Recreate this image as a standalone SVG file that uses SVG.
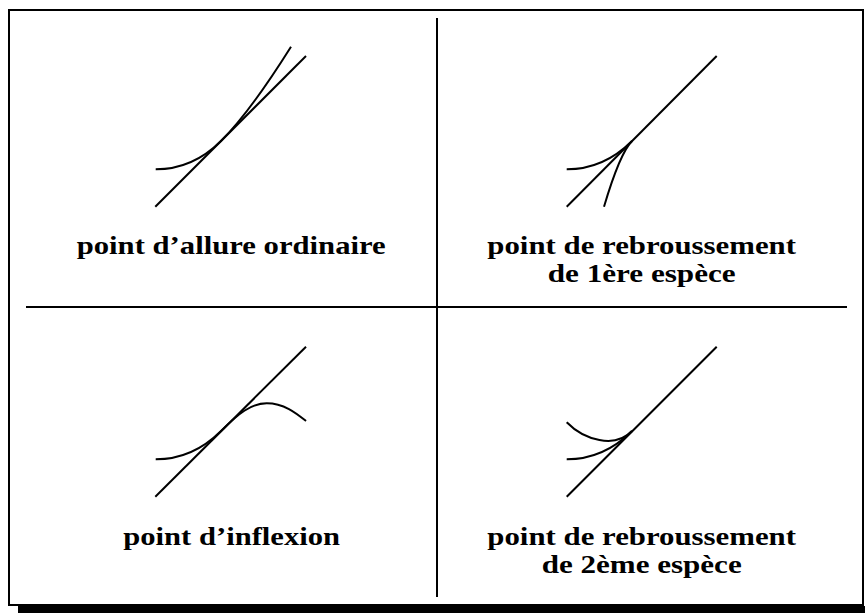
<svg xmlns="http://www.w3.org/2000/svg" width="865" height="613" viewBox="0 0 865 613">
<style>
.frame{fill:none;stroke:#000;stroke-width:2}
.div{stroke:#000;stroke-width:2}
.crv{fill:none;stroke:#000;stroke-width:2;stroke-linecap:butt}
.lbl{font-family:'Liberation Serif',serif;font-weight:700;font-size:25px;fill:#000}
</style>
<rect x="0" y="0" width="865" height="613" fill="#fff"/>
<g id="frame">
<rect x="18" y="606" width="860" height="10" fill="#000"/>
<rect class="frame" x="9" y="10" width="854" height="595" fill="#fff"/>
</g>
<g id="connectors">
<line class="div" x1="437" y1="18" x2="437" y2="597"/>
<line class="div" x1="26" y1="307" x2="847" y2="307"/>
</g>
<g id="ordinaire">
<path class="crv" d="M155.3,206.7 L306,56"/>
<path class="crv" d="M155.7,169.3 Q192.7,169.3 221,141 Q250,112 291,46.7"/>
<text class="lbl" x="76.7" y="254.3" textLength="309" lengthAdjust="spacingAndGlyphs">point d’allure ordinaire</text>
</g>
<g id="rebroussement1">
<path class="crv" d="M566.7,206.7 L716.7,56"/>
<path class="crv" d="M566.7,169.3 Q603.7,169.3 632,141"/>
<path class="crv" d="M632,141 Q620,153 604,206.7"/>
<text class="lbl" x="487.3" y="254.3" textLength="308.7" lengthAdjust="spacingAndGlyphs">point de rebroussement</text>
<text class="lbl" x="547.7" y="281.7" textLength="188" lengthAdjust="spacingAndGlyphs">de 1ère espèce</text>
</g>
<g id="inflexion">
<path class="crv" d="M155.3,496.7 L306,346.7"/>
<path class="crv" d="M155.7,459.3 Q192.7,459.3 221,431 C238,414 251,403.3 266.7,403.3 C284,403.3 296,413 306,421"/>
<text class="lbl" x="123.3" y="545" textLength="216.7" lengthAdjust="spacingAndGlyphs">point d’inflexion</text>
</g>
<g id="rebroussement2">
<path class="crv" d="M566.7,496.7 L716.7,346.7"/>
<path class="crv" d="M566.7,459.3 Q603.7,459.3 632,431"/>
<path class="crv" d="M566.7,422.3 C584,440 615,449 632,431"/>
<text class="lbl" x="487.3" y="545" textLength="308.7" lengthAdjust="spacingAndGlyphs">point de rebroussement</text>
<text class="lbl" x="541.7" y="572.7" textLength="200" lengthAdjust="spacingAndGlyphs">de 2ème espèce</text>
</g>
</svg>
